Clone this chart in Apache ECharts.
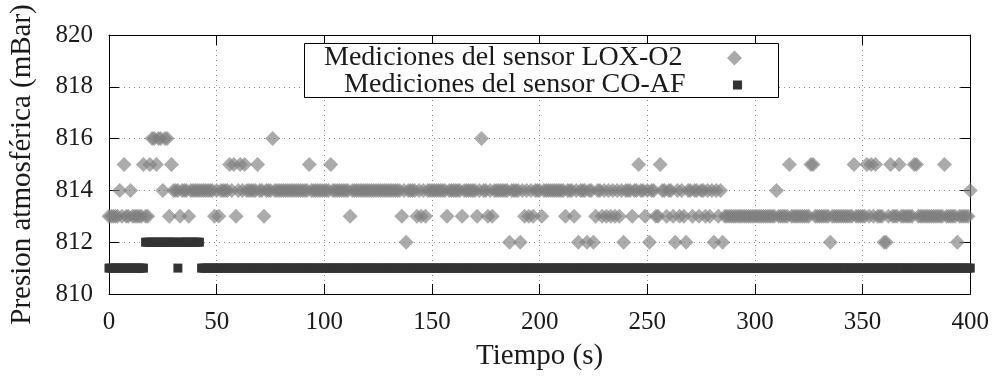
<!DOCTYPE html>
<html><head><meta charset="utf-8">
<script src="https://cdn.jsdelivr.net/npm/echarts@6/dist/echarts.min.js"></script>
<style>html,body{margin:0;padding:0;background:#fff}#c{width:992px;height:377px}</style>
</head><body><div id="c"></div>
<script>
// Muestras a 1 Hz: el índice del arreglo es el tiempo en segundos (0..400)
const loxO2 = [
 813,813,813,813,813,814,813,815,813,813,814,813,813,813,813,813,815,813,813,815,
 816,816,815,816,816,814,816,816,813,815,814,814,814,813,814,814,814,813,814,814,
 814,814,814,814,814,814,814,814,814,813,814,813,814,814,814,814,815,814,815,813,
 814,815,814,815,814,814,814,814,814,815,814,814,813,814,814,814,816,814,814,814,
 814,814,814,814,814,814,814,814,814,814,814,814,814,815,814,814,814,814,814,814,
 814,814,814,815,814,814,814,814,814,814,814,814,813,814,814,814,814,814,814,814,
 814,814,814,814,814,814,814,814,814,814,814,814,814,814,814,814,813,814,812,814,
 814,814,814,813,814,813,814,813,814,814,814,814,814,814,814,814,814,813,814,814,
 814,814,814,814,813,814,814,814,814,814,814,813,814,816,814,814,813,814,813,814,
 814,814,814,814,814,814,812,814,814,814,814,812,814,813,814,813,814,813,814,814,
 814,813,814,814,814,814,814,814,814,814,814,814,813,814,814,814,813,814,812,814,
 814,814,812,814,814,812,813,814,814,813,814,813,814,813,814,813,814,813,814,812,
 814,814,814,813,814,814,815,814,814,813,814,812,814,814,813,813,815,814,814,813,
 814,814,813,812,814,813,814,813,812,814,814,813,814,814,813,814,814,813,814,813,
 814,812,814,813,814,812,813,813,813,813,813,813,813,813,813,813,813,813,813,813,
 813,813,813,813,813,813,813,813,813,813,814,813,813,813,813,813,815,813,813,813,
 813,813,813,813,813,813,815,815,813,813,813,813,813,813,813,812,813,813,813,813,
 813,813,813,813,813,813,815,813,813,813,813,813,815,813,815,813,815,813,813,813,
 812,812,813,815,813,813,813,815,813,813,813,813,813,813,815,815,813,813,813,813,
 813,813,813,813,813,813,813,813,815,813,813,813,813,813,812,813,813,813,813,813,
 814
];
const coAF = [
 811,811,811,811,811,811,811,811,811,811,811,811,811,811,811,811,811,812,812,812,
 812,812,812,812,812,812,812,812,812,812,812,812,811,812,812,812,812,812,812,812,
 812,812,812,811,811,811,811,811,811,811,811,811,811,811,811,811,811,811,811,811,
 811,811,811,811,811,811,811,811,811,811,811,811,811,811,811,811,811,811,811,811,
 811,811,811,811,811,811,811,811,811,811,811,811,811,811,811,811,811,811,811,811,
 811,811,811,811,811,811,811,811,811,811,811,811,811,811,811,811,811,811,811,811,
 811,811,811,811,811,811,811,811,811,811,811,811,811,811,811,811,811,811,811,811,
 811,811,811,811,811,811,811,811,811,811,811,811,811,811,811,811,811,811,811,811,
 811,811,811,811,811,811,811,811,811,811,811,811,811,811,811,811,811,811,811,811,
 811,811,811,811,811,811,811,811,811,811,811,811,811,811,811,811,811,811,811,811,
 811,811,811,811,811,811,811,811,811,811,811,811,811,811,811,811,811,811,811,811,
 811,811,811,811,811,811,811,811,811,811,811,811,811,811,811,811,811,811,811,811,
 811,811,811,811,811,811,811,811,811,811,811,811,811,811,811,811,811,811,811,811,
 811,811,811,811,811,811,811,811,811,811,811,811,811,811,811,811,811,811,811,811,
 811,811,811,811,811,811,811,811,811,811,811,811,811,811,811,811,811,811,811,811,
 811,811,811,811,811,811,811,811,811,811,811,811,811,811,811,811,811,811,811,811,
 811,811,811,811,811,811,811,811,811,811,811,811,811,811,811,811,811,811,811,811,
 811,811,811,811,811,811,811,811,811,811,811,811,811,811,811,811,811,811,811,811,
 811,811,811,811,811,811,811,811,811,811,811,811,811,811,811,811,811,811,811,811,
 811,811,811,811,811,811,811,811,811,811,811,811,811,811,811,811,811,811,811,811,
 811
];
const seriesNames = ['Mediciones del sensor LOX-O2', 'Mediciones del sensor CO-AF'];
const xRange = [0, 400], xStep = 50;
const yRange = [810, 820], yStep = 2;
const xTitle = 'Tiempo (s)';
const yTitle = 'Presion atmosférica (mBar)';

const FONT = '"Liberation Serif", "DejaVu Serif", serif';
const TXT = '#1a1a1a';
const grid = {show: true, lineStyle: {color: '#8a8a8a', type: [1, 4], width: 1}};
const boxLine = {show: true, onZero: false, lineStyle: {color: '#000', width: 1}};
const tick = {show: true, inside: true, length: 10, lineStyle: {color: '#000', width: 1}};

const chart = echarts.init(document.getElementById('c'), null, {renderer: 'canvas'});
chart.setOption({
  animation: false,
  backgroundColor: '#fff',
  grid: {left: 108, top: 35, width: 864, height: 259, containLabel: false},
  xAxis: [
    {type: 'value', min: xRange[0], max: xRange[1], interval: xStep, position: 'bottom',
     axisLine: boxLine, axisTick: tick, splitLine: grid,
     axisLabel: {fontFamily: FONT, fontSize: 25, color: TXT, margin: 16},
     name: xTitle, nameLocation: 'middle', nameGap: 48,
     nameTextStyle: {fontFamily: FONT, fontSize: 29, color: TXT}},
    {type: 'value', min: xRange[0], max: xRange[1], interval: xStep, position: 'top',
     axisLine: boxLine, axisTick: tick, splitLine: {show: false}, axisLabel: {show: false}}
  ],
  yAxis: [
    {type: 'value', min: yRange[0], max: yRange[1], interval: yStep, position: 'left',
     axisLine: boxLine, axisTick: tick, splitLine: grid,
     axisLabel: {fontFamily: FONT, fontSize: 25, color: TXT, margin: 16},
     name: yTitle, nameLocation: 'middle', nameGap: 72,
     nameTextStyle: {fontFamily: FONT, fontSize: 29, color: TXT}},
    {type: 'value', min: yRange[0], max: yRange[1], interval: yStep, position: 'right',
     axisLine: boxLine, axisTick: tick, splitLine: {show: false}, axisLabel: {show: false}}
  ],
  graphic: [{type: 'rect', left: 304, top: 43, z: 3,
    shape: {width: 474, height: 54}, style: {fill: '#fff', stroke: '#000', lineWidth: 1}}],
  legend: [
    {data: [{name: seriesNames[0], icon: 'path://M0,-1L1,0L0,1L-1,0Z', itemStyle: {color: '#a9a9a9', opacity: 1}}],
     orient: 'vertical', align: 'right', right: 250, top: 44, padding: 0,
     itemWidth: 94, itemHeight: 15, selectedMode: false,
     textStyle: {fontFamily: FONT, fontSize: 28, color: TXT, lineHeight: 24}},
    {data: [{name: seriesNames[1], icon: 'path://M0,0H1V1H0Z', itemStyle: {color: '#333', opacity: 1}}],
     orient: 'vertical', align: 'right', right: 250, top: 71, padding: 0,
     itemWidth: 94, itemHeight: 9, selectedMode: false,
     textStyle: {fontFamily: FONT, fontSize: 28, color: TXT, lineHeight: 24}}
  ],
  series: [
    {name: seriesNames[0], type: 'scatter', xAxisIndex: 0, yAxisIndex: 0, clip: false,
     symbol: 'diamond', symbolSize: [15, 15],
     itemStyle: {color: '#808080', opacity: 0.66},
     data: loxO2.map((v, t) => [t, v])},
    {name: seriesNames[1], type: 'scatter', xAxisIndex: 0, yAxisIndex: 0, clip: false,
     symbol: 'rect', symbolSize: [9, 9],
     itemStyle: {color: '#333333', opacity: 1},
     data: coAF.map((v, t) => [t, v])}
  ]
});
</script></body></html>
